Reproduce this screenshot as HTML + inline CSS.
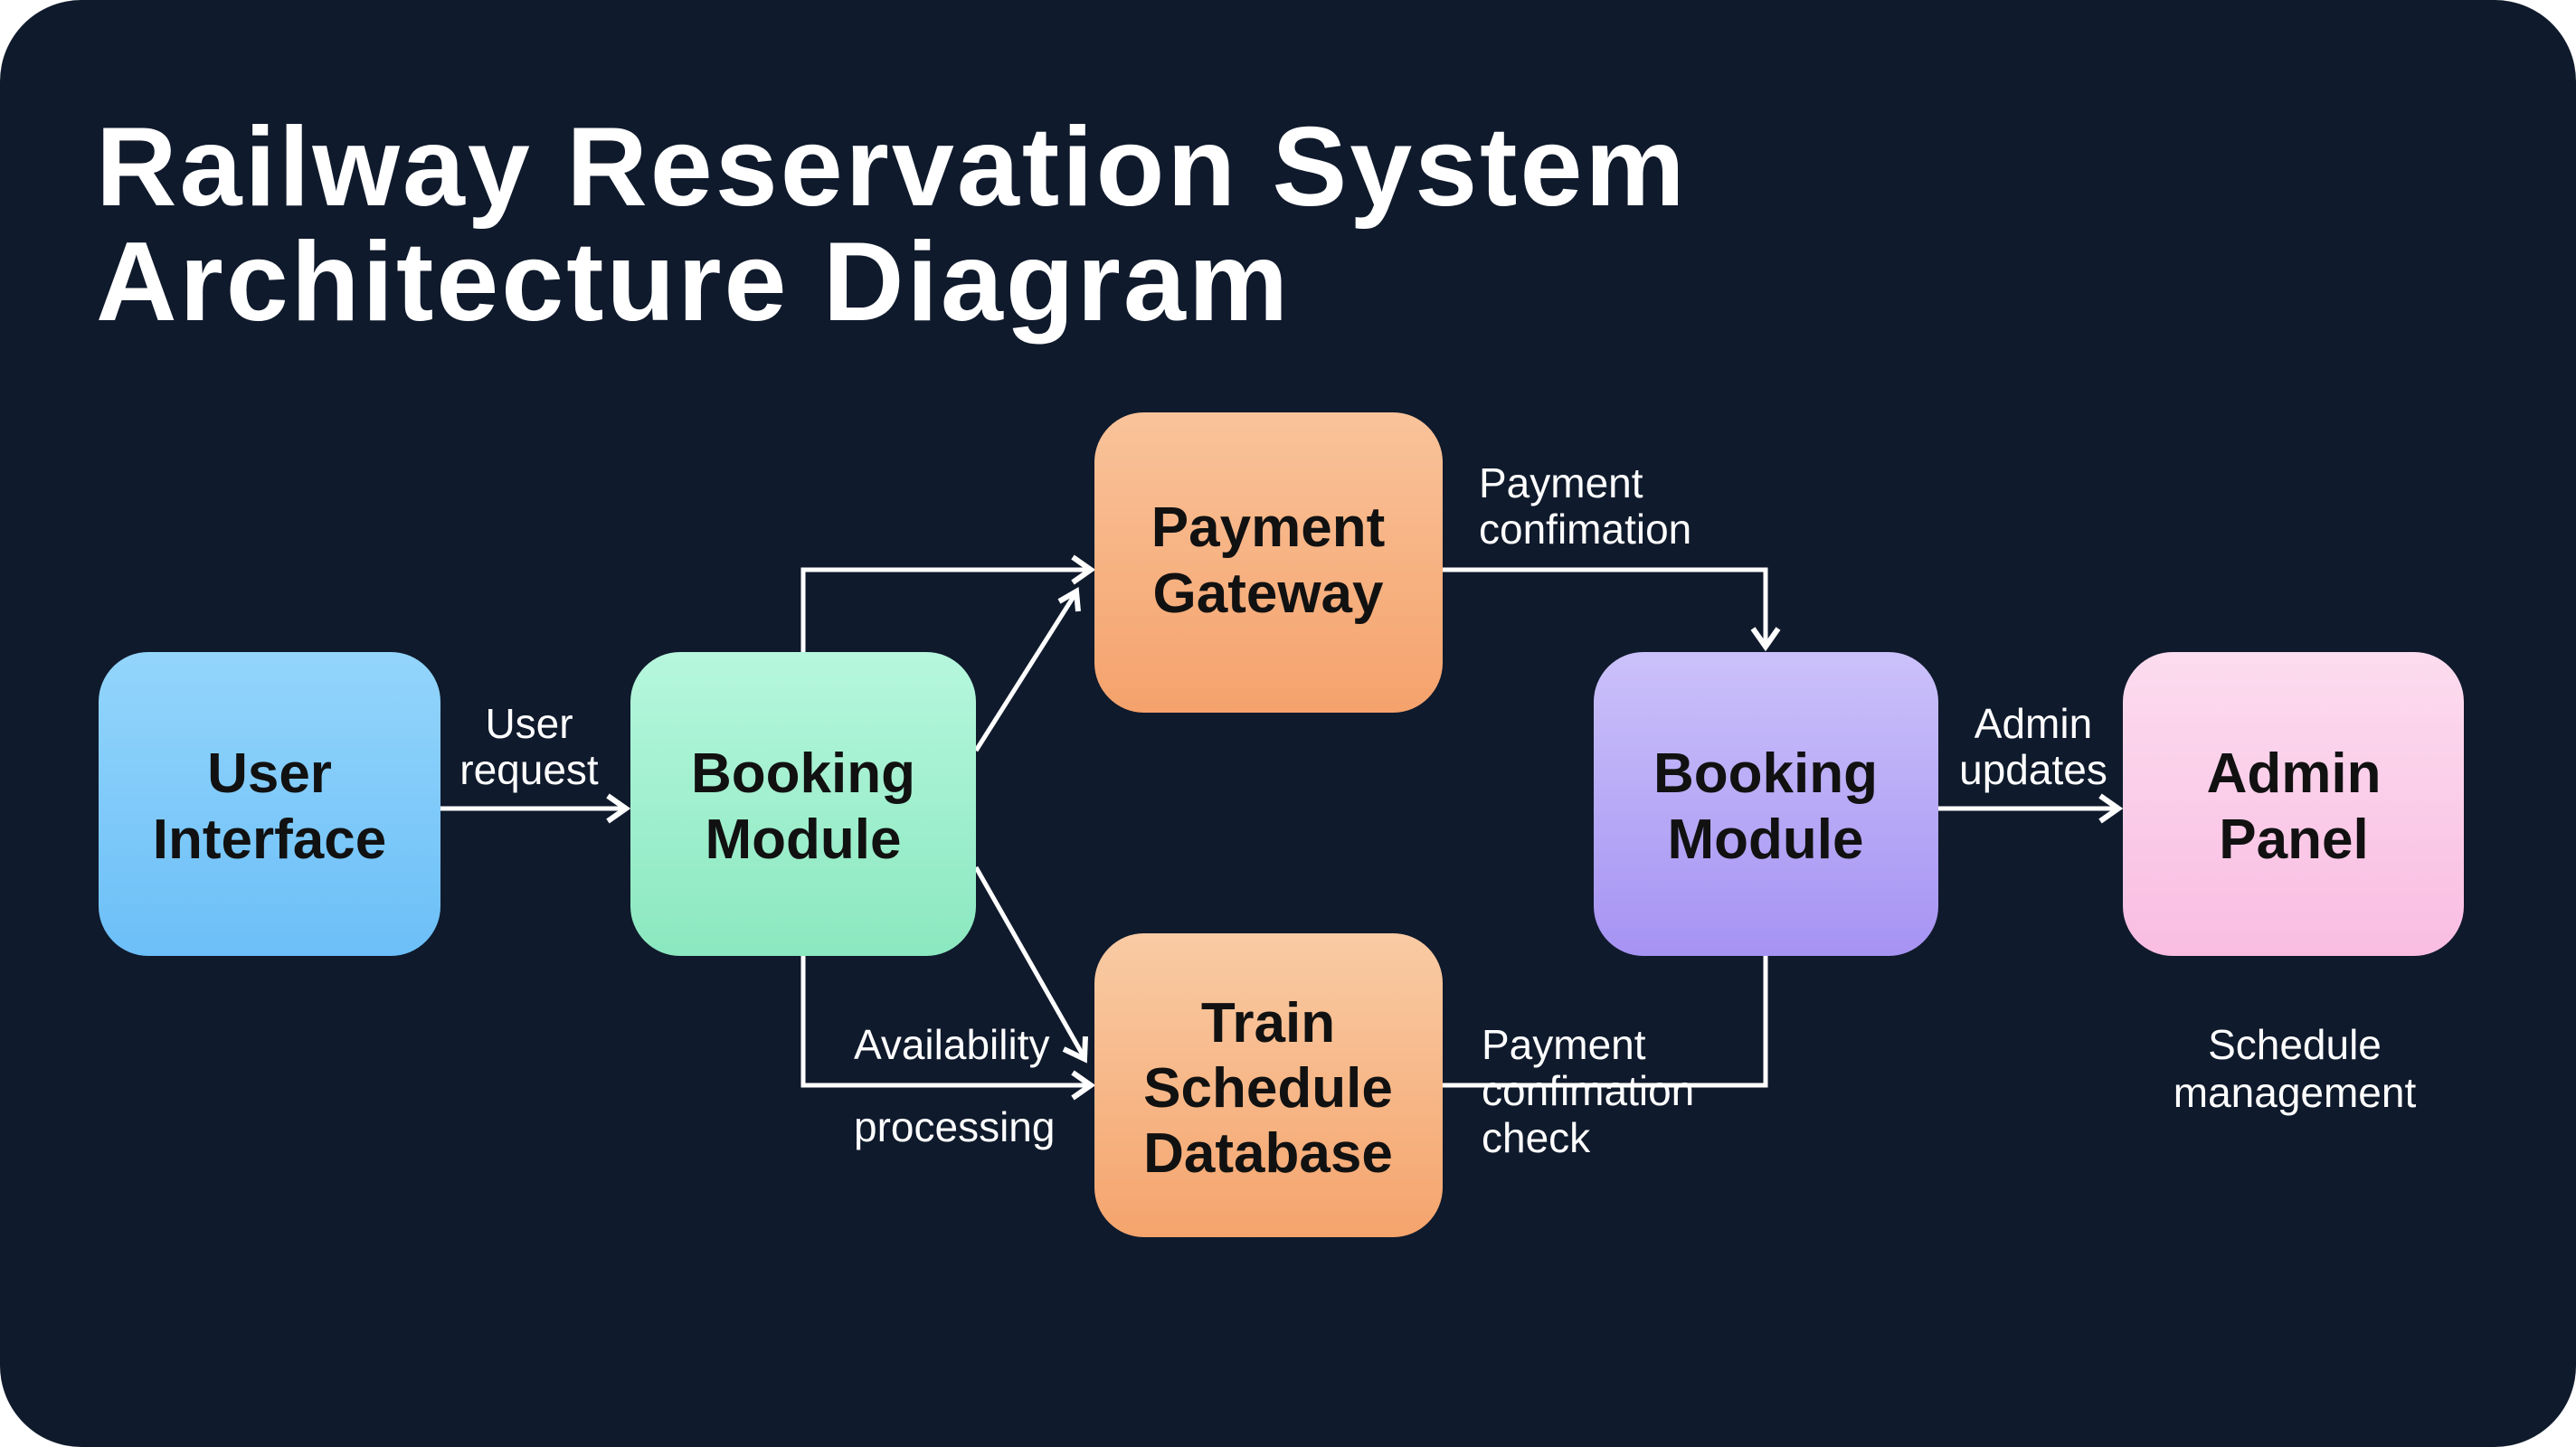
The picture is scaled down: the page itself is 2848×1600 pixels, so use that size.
<!DOCTYPE html>
<html><head><meta charset="utf-8"><style>
html,body{margin:0;padding:0;background:#fff;width:2848px;height:1600px;overflow:hidden}
svg{display:block}
</style></head><body>
<svg width="2848" height="1600" viewBox="0 0 2848 1600" xmlns="http://www.w3.org/2000/svg" font-family="Liberation Sans, sans-serif">
<defs>
<linearGradient id="gUI" x1="0" y1="0" x2="0" y2="1"><stop offset="0" stop-color="#93d5fb"/><stop offset="1" stop-color="#6cbff8"/></linearGradient>
<linearGradient id="gB1" x1="0" y1="0" x2="0" y2="1"><stop offset="0" stop-color="#b6f7de"/><stop offset="1" stop-color="#8be8bf"/></linearGradient>
<linearGradient id="gPG" x1="0" y1="0" x2="0" y2="1"><stop offset="0" stop-color="#f9c39a"/><stop offset="1" stop-color="#f5a26c"/></linearGradient>
<linearGradient id="gTS" x1="0" y1="0" x2="0" y2="1"><stop offset="0" stop-color="#f9cba4"/><stop offset="1" stop-color="#f5a46d"/></linearGradient>
<linearGradient id="gB2" x1="0" y1="0" x2="0" y2="1"><stop offset="0" stop-color="#cbc1fa"/><stop offset="1" stop-color="#a693f3"/></linearGradient>
<linearGradient id="gAP" x1="0" y1="0" x2="0" y2="1"><stop offset="0" stop-color="#fcdcef"/><stop offset="1" stop-color="#f9bde2"/></linearGradient>
</defs>
<rect x="0" y="0" width="2848" height="1600" rx="90" fill="#0f1a2c"/>
<g fill="#fff" font-weight="bold" font-size="124" letter-spacing="3">
<text x="106" y="227">Railway Reservation System</text>
<text x="106" y="354">Architecture Diagram</text>
</g>
<g stroke="#fff" stroke-width="5" fill="none">
<line x1="487" y1="894" x2="690" y2="894"/><path d="M672,880 L692,894 L672,908" stroke-width="6"/>
<polyline points="888,721 888,630 1204,630"/><path d="M1186,616 L1206,630 L1186,644" stroke-width="6"/>
<line x1="1079" y1="830" x2="1188" y2="658"/><path d="M1171,665 L1190,654 L1192,676" stroke-width="6"/>
<line x1="1079" y1="959" x2="1198" y2="1168"/><path d="M1176,1160 L1199,1171 L1200,1146" stroke-width="6"/>
<polyline points="888,1057 888,1200 1204,1200"/><path d="M1186,1186 L1206,1200 L1186,1214" stroke-width="6"/>
<polyline points="1595,630 1952,630 1952,713"/><path d="M1938,695 L1952,715 L1966,695" stroke-width="6"/>
<polyline points="1595,1200 1952,1200 1952,1057"/>
<line x1="2143" y1="894" x2="2340" y2="894"/><path d="M2322,880 L2342,894 L2322,908" stroke-width="6"/>
</g>
<rect x="109" y="721" width="378" height="336" rx="55" fill="url(#gUI)"/>
<rect x="697" y="721" width="382" height="336" rx="55" fill="url(#gB1)"/>
<rect x="1210" y="456" width="385" height="332" rx="55" fill="url(#gPG)"/>
<rect x="1210" y="1032" width="385" height="336" rx="55" fill="url(#gTS)"/>
<rect x="1762" y="721" width="381" height="336" rx="55" fill="url(#gB2)"/>
<rect x="2347" y="721" width="377" height="336" rx="55" fill="url(#gAP)"/>
<g fill="#111" font-weight="bold" font-size="62" text-anchor="middle">
<text x="298" y="876">User</text><text x="298" y="949">Interface</text>
<text x="888" y="876">Booking</text><text x="888" y="949">Module</text>
<text x="1402" y="604">Payment</text><text x="1402" y="677">Gateway</text>
<text x="1402" y="1152">Train</text><text x="1402" y="1224">Schedule</text><text x="1402" y="1296">Database</text>
<text x="1952" y="876">Booking</text><text x="1952" y="949">Module</text>
<text x="2536" y="876">Admin</text><text x="2536" y="949">Panel</text>
</g>
<g fill="#fff" font-size="46">
<text x="585" y="816" text-anchor="middle">User</text><text x="585" y="867" text-anchor="middle">request</text>
<text x="1635" y="550">Payment</text><text x="1635" y="601">confimation</text>
<text x="2248" y="816" text-anchor="middle">Admin</text><text x="2248" y="867" text-anchor="middle">updates</text>
<text x="944" y="1171">Availability</text>
<text x="944" y="1262">processing</text>
<text x="1638" y="1171">Payment</text><text x="1638" y="1222">confimation</text><text x="1638" y="1274">check</text>
<text x="2537" y="1171" text-anchor="middle">Schedule</text><text x="2537" y="1224" text-anchor="middle">management</text>
</g>
</svg>
</body></html>
